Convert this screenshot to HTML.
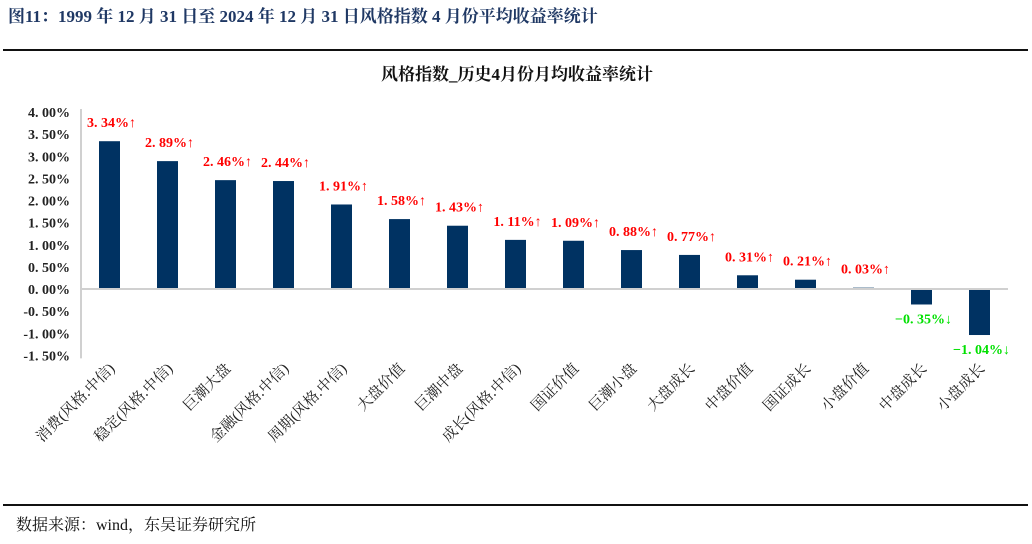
<!DOCTYPE html>
<html><head><meta charset="utf-8">
<style>
body{margin:0;background:#fff;width:1032px;height:539px;overflow:hidden;font-family:"Liberation Serif","Noto Serif CJK SC",serif;}
</style></head>
<body>
<svg width="1032" height="539" viewBox="0 0 1032 539">
<text x="8" y="22" font-size="17" font-weight="bold" fill="#1f3864" font-family="Liberation Serif, Noto Serif CJK SC, serif">图11：1999 年 12 月 31 日至 2024 年 12 月 31 日风格指数 4 月份平均收益率统计</text>
<rect x="3" y="49" width="1025" height="2" fill="#111"/>
<text x="517" y="80" font-size="17" font-weight="bold" fill="#111" text-anchor="middle">风格指数_历史4月份月均收益率统计</text>
<g id="chart"></g>
<rect x="3" y="504" width="1025" height="2" fill="#111"/>
<text x="16" y="530" font-size="16" fill="#111">数据来源：wind，东吴证券研究所</text>
</svg>
<script>
const categories=["消费(风格.中信)","稳定(风格.中信)","巨潮大盘","金融(风格.中信)","周期(风格.中信)","大盘价值","巨潮中盘","成长(风格.中信)","国证价值","巨潮小盘","大盘成长","中盘价值","国证成长","小盘价值","中盘成长","小盘成长"];
const values=[3.34,2.89,2.46,2.44,1.91,1.58,1.43,1.11,1.09,0.88,0.77,0.31,0.21,0.03,-0.35,-1.04];
const yTicks=[4,3.5,3,2.5,2,1.5,1,0.5,0,-0.5,-1,-1.5];
const NS="http://www.w3.org/2000/svg";
const g=document.getElementById('chart');
const y0=289, pxPer=44.25, x0=109.5, step=58;
function y(v){return y0-v*pxPer;}
function x(i){return x0+i*step;}
function mk(t,a){const e=document.createElementNS(NS,t);for(const k in a)e.setAttribute(k,a[k]);g.appendChild(e);return e;}
const ax=mk('line',{x1:81,y1:y(4)-3,x2:81,y2:y(-1.5)+3,stroke:'#d0d0d0','stroke-width':2});


yTicks.forEach(v=>{
 const t=mk('text',{x:70,y:y(v)+5,'text-anchor':'end','font-size':14,'font-weight':'bold',fill:'#222'});
 t.textContent=(v<0?'-':'')+Math.abs(v).toFixed(2).replace('.','. ')+'%';
 
 
});
values.forEach((v,i)=>{
 const top=Math.min(y(v),y0), h=Math.abs(y(v)-y0);
 const b=mk('rect',{x:x(i)-10.5,y:top,width:21,height:Math.max(h,1),fill:'#003262'});
 
 
 const pos=v>=0;
 const t=mk('text',{x:x(i)+2,y:pos?y(v)-14:y(v)+19,'text-anchor':'middle','font-size':14,'font-weight':'bold',fill:pos?'#ff0000':'#00e000'});
 t.textContent=(pos?'':'−')+Math.abs(v).toFixed(2).replace('.','. ')+'%'+(pos?'↑':'↓');
 
 
 const c=mk('text',{x:0,y:0,'text-anchor':'end','font-size':15,fill:'#222',transform:`translate(${x(i)+6},${y(-1.5)+14}) rotate(-45)`});
 c.textContent=categories[i];
 
 
});
const zl=mk('line',{x1:81,y1:y0,x2:1008,y2:y0,stroke:'#d0d0d0','stroke-width':2});


</script>
</body></html>
